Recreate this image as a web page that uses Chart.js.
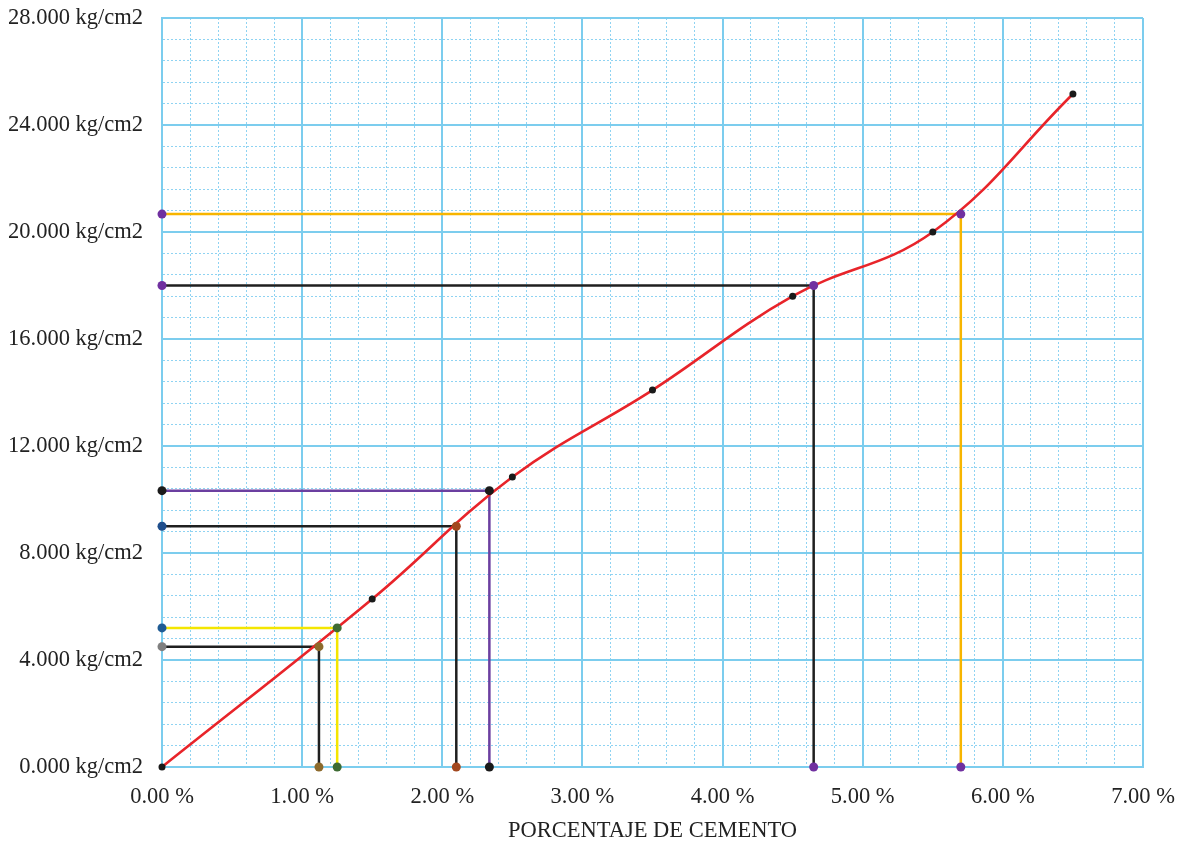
<!DOCTYPE html>
<html lang="es">
<head>
<meta charset="utf-8">
<title>Porcentaje de cemento</title>
<script src="https://cdn.jsdelivr.net/npm/chart.js@4.4.1/dist/chart.umd.min.js"></script>
<style>
    body { margin: 0; background: #ffffff; }
    #grafico { display: block; }
</style>
</head>
<body>
<canvas id="grafico" width="1186" height="841"></canvas>
<script>
"use strict";

// Curva (porcentaje de cemento vs resistencia)
let curvaX = [0, 1.5, 2.5, 3.5, 4.5, 5.5, 6.5];
let curvaY = [0, 6280, 10840, 14090, 17600, 20000, 25160];

// Lecturas sobre la curva (lineas guia)
let guiaX = [1.12, 1.25, 2.1, 2.336, 4.65, 5.7];
let guiaY = [4500, 5200, 9000, 10330, 18000, 20670];

// Colores de cada guia
let colorLinea = ['#1f1f1f', '#f4e600', '#1f1f1f', '#6b3fa0', '#1f1f1f', '#f7b500'];
let colorEje = ['#7f7f7f', '#1f5b94', '#1f4e8c', '#1a1a1a', '#7030a0', '#7030a0'];
let colorCruce = ['#8d6a2c', '#3e6b33', '#a2481f', '#1a1a1a', '#7030a0', '#7030a0'];

// Ejes
let xMin = 0, xMax = 7, xPaso = 0.2;
let yMin = 0, yMax = 28000, yPaso = 800;

// es linea principal?
function esMayor(v, cada) {
    let r = v / cada;
    return Math.abs(r - Math.round(r)) < 1e-6;
}

function formatoKg(v) {
    let miles = Math.floor(v / 1000);
    let resto = String(Math.round(v % 1000)).padStart(3, '0');
    return miles + '.' + resto + ' kg/cm2';
}

// armar datasets
let datasets = [];

// marcadores (van arriba de todo)
let marcas = [];
let marcasColor = [];
for (let i = 0; i < guiaX.length; i++) {
    marcas.push({ x: 0, y: guiaY[i] });
    marcasColor.push(colorEje[i]);
    marcas.push({ x: guiaX[i], y: guiaY[i] });
    marcasColor.push(colorCruce[i]);
    marcas.push({ x: guiaX[i], y: 0 });
    marcasColor.push(colorCruce[i]);
}
datasets.push({
    label: 'marcas',
    data: marcas,
    showLine: false,
    pointRadius: 4.5,
    pointBackgroundColor: marcasColor,
    pointBorderWidth: 0,
    clip: false
});

// curva roja
datasets.push({
    label: 'curva',
    data: curvaX.map((x, i) => ({ x: x, y: curvaY[i] })),
    showLine: true,
    borderColor: '#e8242a',
    borderWidth: 2.6,
    tension: 0.4,
    pointRadius: 3.5,
    pointBackgroundColor: '#1a1a1a',
    pointBorderWidth: 0,
    clip: false
});

// lineas guia
for (let i = 0; i < guiaX.length; i++) {
    datasets.push({
        label: 'guia' + i,
        data: [
            { x: 0, y: guiaY[i] },
            { x: guiaX[i], y: guiaY[i] },
            { x: guiaX[i], y: 0 }
        ],
        showLine: true,
        borderColor: colorLinea[i],
        borderWidth: 2.5,
        tension: 0,
        pointRadius: 0,
        clip: false
    });
}

const fuente = { family: '"Liberation Serif", "Times New Roman", serif', size: 22.5 };

const grafEl = document.getElementById('grafico');
new Chart(grafEl, {
    type: 'scatter',
    data: { datasets: datasets },
    options: {
        responsive: false,
        animation: false,
        devicePixelRatio: 1,
        layout: { padding: { top: 18, right: 43, left: 0, bottom: 0 } },
        plugins: {
            legend: { display: false },
            tooltip: { enabled: false }
        },
        scales: {
            x: {
                type: 'linear',
                min: xMin,
                max: xMax,
                // alto fijo y sin relleno extra a la derecha
                afterFit: (scale) => {
                    scale.height = 74;
                    scale.paddingRight = 0;
                },
                ticks: {
                    stepSize: xPaso,
                    autoSkip: false,
                    maxRotation: 0,
                    padding: 17,
                    color: '#222222',
                    font: fuente,
                    callback: (v) => esMayor(v, 1) ? Number(v).toFixed(2) + ' %' : ''
                },
                grid: {
                    drawTicks: false,
                    color: (ctx) => (ctx.tick && esMayor(ctx.tick.value, 1)) ? '#7ccdee' : '#8fd3f2',
                    lineWidth: (ctx) => (ctx.tick && esMayor(ctx.tick.value, 1)) ? 2 : 1
                },
                border: {
                    color: '#7ccdee',
                    width: 2,
                    dash: (ctx) => (ctx.tick && !esMayor(ctx.tick.value, 1)) ? [2, 2] : []
                },
                title: {
                    display: true,
                    text: 'PORCENTAJE DE CEMENTO',
                    color: '#222222',
                    font: fuente,
                    padding: { top: 0, bottom: -4 }
                }
            },
            y: {
                type: 'linear',
                min: yMin,
                max: yMax,
                afterFit: (scale) => {
                    scale.width = 162;
                    scale.paddingTop = 0;
                },
                ticks: {
                    stepSize: yPaso,
                    autoSkip: false,
                    padding: 19,
                    color: '#222222',
                    font: fuente,
                    callback: (v) => esMayor(v, 4000) ? formatoKg(v) : ''
                },
                grid: {
                    drawTicks: false,
                    color: (ctx) => (ctx.tick && esMayor(ctx.tick.value, 4000)) ? '#7ccdee' : '#8fd3f2',
                    lineWidth: (ctx) => (ctx.tick && esMayor(ctx.tick.value, 4000)) ? 2 : 1
                },
                border: {
                    color: '#7ccdee',
                    width: 2,
                    dash: (ctx) => (ctx.tick && !esMayor(ctx.tick.value, 4000)) ? [2, 2] : []
                }
            }
        }
    }
});
</script>
</body>
</html>
